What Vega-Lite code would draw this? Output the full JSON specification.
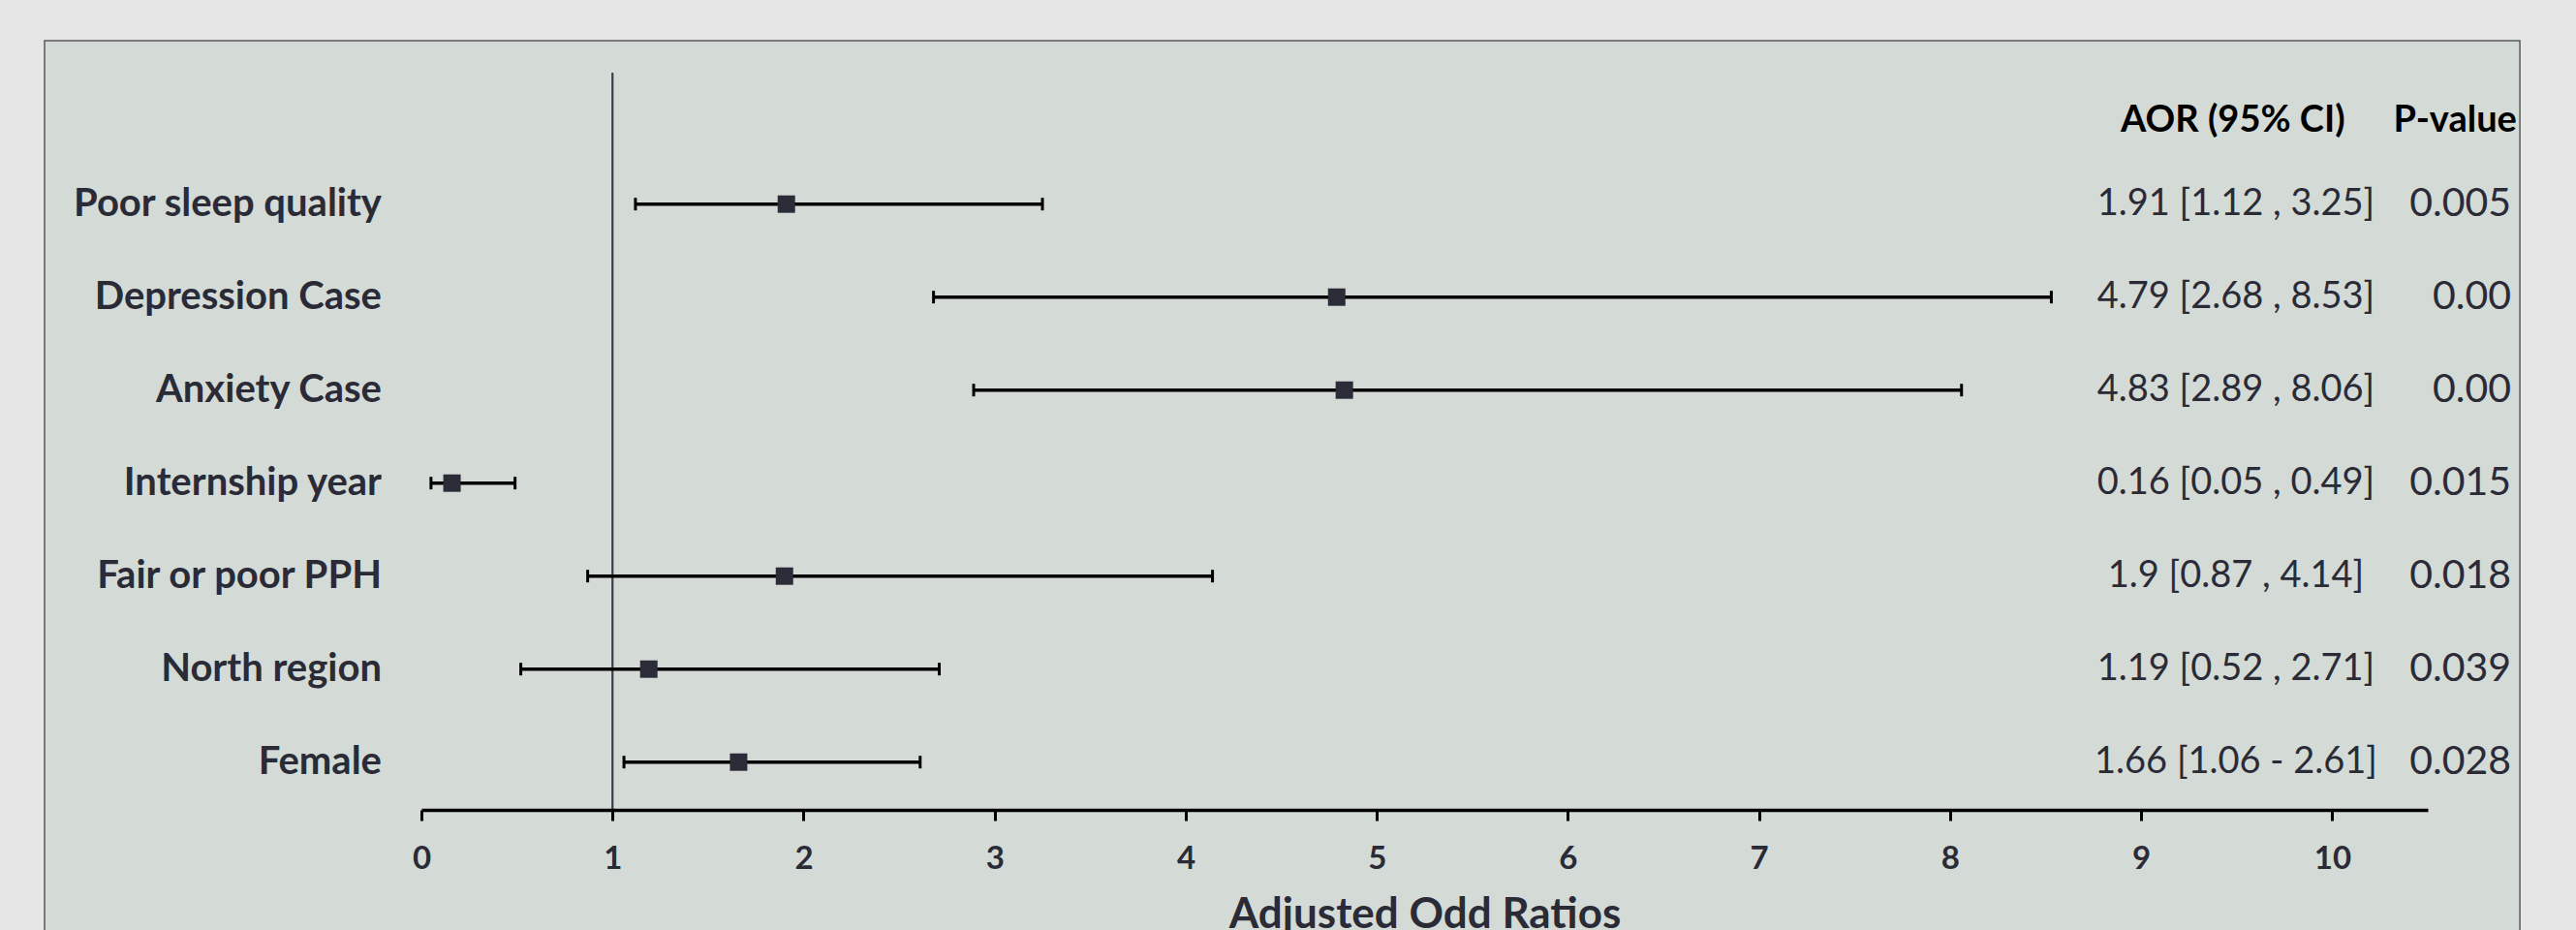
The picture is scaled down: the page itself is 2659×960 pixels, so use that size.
{
  "$schema": "https://vega.github.io/schema/vega-lite/v6.json",
  "width": 2071,
  "height": 761,
  "autosize": {"type": "none"},
  "padding": {"left": 435, "top": 75, "right": 153, "bottom": 124},
  "background": "#e6e6e6",
  "config": {
    "view": {"stroke": null},
    "text": {"font": "Lato"},
    "axis": {"labelFont": "Lato", "titleFont": "Lato"}
  },
  "datasets": {
    "factors": [
      {"factor": "Poor sleep quality", "aor": 1.91, "lo": 1.12, "hi": 3.25, "ci": "1.91 [1.12 , 3.25]", "p": "0.005"},
      {"factor": "Depression Case", "aor": 4.79, "lo": 2.68, "hi": 8.53, "ci": "4.79 [2.68 , 8.53]", "p": "0.00"},
      {"factor": "Anxiety Case", "aor": 4.83, "lo": 2.89, "hi": 8.06, "ci": "4.83 [2.89 , 8.06]", "p": "0.00"},
      {"factor": "Internship year", "aor": 0.16, "lo": 0.05, "hi": 0.49, "ci": "0.16 [0.05 , 0.49]", "p": "0.015"},
      {"factor": "Fair or poor PPH", "aor": 1.9, "lo": 0.87, "hi": 4.14, "ci": "1.9 [0.87 , 4.14]", "p": "0.018"},
      {"factor": "North region", "aor": 1.19, "lo": 0.52, "hi": 2.71, "ci": "1.19 [0.52 , 2.71]", "p": "0.039"},
      {"factor": "Female", "aor": 1.66, "lo": 1.06, "hi": 2.61, "ci": "1.66 [1.06 - 2.61]", "p": "0.028"}
    ],
    "header": [{"ci_head": "AOR (95% CI)", "p_head": "P-value"}]
  },
  "layer": [
    {
      "data": {"name": "header"},
      "mark": {"type": "rect", "fill": "#d4dbd6", "stroke": "#5a5a5a", "strokeWidth": 1.5},
      "encoding": {
        "x": {"datum": -1.9723, "type": "quantitative", "scale": {"domain": [0, 10.5], "nice": false, "zero": false}},
        "x2": {"datum": 10.982},
        "y": {"datum": -0.757, "type": "quantitative", "scale": {"domain": [-0.4135, 7.5135], "reverse": true, "nice": false, "zero": false}, "axis": null},
        "y2": {"datum": 9.2}
      }
    },
    {
      "data": {"name": "header"},
      "mark": {"type": "rule", "color": "#3b3e48", "strokeWidth": 2.2},
      "encoding": {"x": {"datum": 1, "type": "quantitative"}}
    },
    {
      "data": {"name": "factors"},
      "transform": [{"window": [{"op": "row_number", "as": "row"}]}],
      "layer": [
        {
          "mark": {"type": "rule", "color": "#000000", "strokeWidth": 3.5},
          "encoding": {
            "x": {"field": "lo", "type": "quantitative", "axis": {
              "zindex": 1,
              "values": [0, 1, 2, 3, 4, 5, 6, 7, 8, 9, 10],
              "format": "d",
              "labelFlush": false,
              "grid": false,
              "domainColor": "#000000",
              "domainWidth": 3.5,
              "tickColor": "#000000",
              "tickWidth": 3,
              "tickSize": 11,
              "labelFontSize": 33,
              "labelFontWeight": "bold",
              "labelColor": "#2a2b36",
              "labelPadding": 23,
              "title": "Adjusted Odd Ratios",
              "titleFontSize": 44,
              "titleFontWeight": "bold",
              "titleColor": "#2a2b36",
              "titlePadding": 19
            }},
            "x2": {"field": "hi"},
            "y": {"field": "row", "type": "quantitative"}
          }
        },
        {
          "mark": {"type": "tick", "orient": "vertical", "color": "#000000", "size": 13, "thickness": 3, "opacity": 1},
          "encoding": {
            "x": {"field": "lo", "type": "quantitative"},
            "y": {"field": "row", "type": "quantitative"}
          }
        },
        {
          "mark": {"type": "tick", "orient": "vertical", "color": "#000000", "size": 13, "thickness": 3, "opacity": 1},
          "encoding": {
            "x": {"field": "hi", "type": "quantitative"},
            "y": {"field": "row", "type": "quantitative"}
          }
        },
        {
          "mark": {"type": "square", "filled": true, "color": "#2b2c37", "size": 324, "opacity": 1},
          "encoding": {
            "x": {"field": "aor", "type": "quantitative"},
            "y": {"field": "row", "type": "quantitative"}
          }
        },
        {
          "mark": {"type": "text", "align": "right", "baseline": "middle", "fontSize": 40, "fontWeight": "bold", "color": "#2a2b36"},
          "encoding": {
            "x": {"datum": -0.208, "type": "quantitative"},
            "y": {"field": "row", "type": "quantitative"},
            "text": {"field": "factor"}
          }
        },
        {
          "mark": {"type": "text", "align": "center", "baseline": "middle", "fontSize": 38, "color": "#2a2b36"},
          "encoding": {
            "x": {"datum": 9.496, "type": "quantitative"},
            "y": {"field": "row", "type": "quantitative"},
            "text": {"field": "ci"}
          }
        },
        {
          "mark": {"type": "text", "align": "right", "baseline": "middle", "fontSize": 41, "color": "#2a2b36"},
          "encoding": {
            "x": {"datum": 10.936, "type": "quantitative"},
            "y": {"field": "row", "type": "quantitative"},
            "text": {"field": "p"}
          }
        }
      ]
    },
    {
      "data": {"name": "header"},
      "mark": {"type": "text", "align": "center", "baseline": "middle", "fontSize": 38, "fontWeight": "bold", "color": "#000000"},
      "encoding": {
        "x": {"datum": 9.48, "type": "quantitative"},
        "y": {"datum": 0.105, "type": "quantitative"},
        "text": {"field": "ci_head"}
      }
    },
    {
      "data": {"name": "header"},
      "mark": {"type": "text", "align": "right", "baseline": "middle", "fontSize": 38, "fontWeight": "bold", "color": "#000000"},
      "encoding": {
        "x": {"datum": 10.966, "type": "quantitative"},
        "y": {"datum": 0.105, "type": "quantitative"},
        "text": {"field": "p_head"}
      }
    }
  ]
}
